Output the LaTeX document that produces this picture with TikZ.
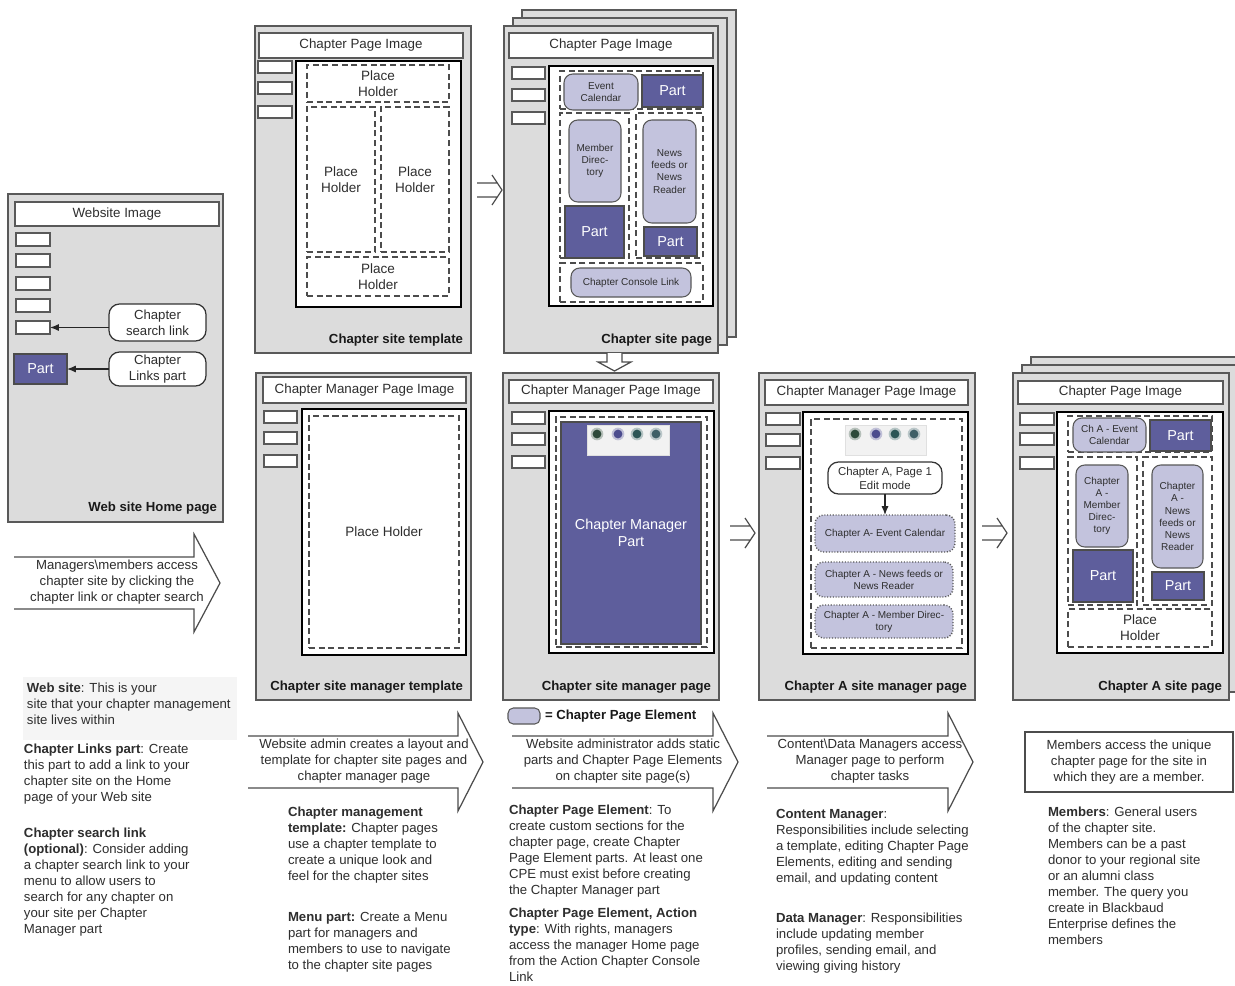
\documentclass[tikz,border=0pt]{standalone}
\usepackage{fontspec}
\setmainfont{Liberation Sans}
\usetikzlibrary{arrows.meta}
\definecolor{pagegray}{HTML}{DCDCDC}
\definecolor{partblue}{HTML}{5E5E9C}
\definecolor{cpelilac}{HTML}{C3C3DD}
\definecolor{inkgray}{HTML}{2E2E2E}
\definecolor{icongreen}{HTML}{2E4A3A}
\definecolor{iconblue}{HTML}{4B4B8E}
\definecolor{iconteal}{HTML}{2C5656}
\definecolor{iconslate}{HTML}{3E5F66}
% box from pixel corners: name, x1, y1, x2, y2, style, text
\newcommand{\pbox}[7]{\node[#6, minimum width={((#4)-(#2))*0.02cm}, minimum height={((#5)-(#3))*0.02cm}] (#1) at ({((#2)+(#4))/2},{((#3)+(#5))/2}) {#7};}
\begin{document}
\begin{tikzpicture}[x=0.02cm, y=-0.02cm,
	every node/.style={inner sep=0pt, outer sep=0pt, align=center, text=inkgray},
	page/.style={draw=black!65, fill=pagegray, line width=0.7pt},
	banner/.style={draw=black!65, fill=white, line width=0.7pt, font=\fontsize{7.6}{9}\selectfont},
	menu/.style={draw=black!65, fill=white, line width=0.6pt},
	body/.style={draw=black, fill=white, line width=1.1pt},
	holder/.style={draw=black!70, dash pattern=on 3.5pt off 2pt, line width=0.8pt, font=\fontsize{7.7}{9.2}\selectfont},
	part/.style={draw=black!70, fill=partblue, line width=0.7pt, text=white, font=\fontsize{8.2}{10}\selectfont},
	cpe/.style={draw=black!65, fill=cpelilac, line width=0.6pt, rounded corners=5pt, font=\fontsize{5.7}{6.9}\selectfont},
	cpedotted/.style={cpe, densely dotted, line width=0.8pt},
	callout/.style={draw=black!80, fill=white, line width=0.7pt, rounded corners=6pt, font=\fontsize{7.5}{9}\selectfont},
	caption/.style={anchor=east, font=\bfseries\fontsize{7.5}{9}\selectfont, text=black!90},
	note/.style={anchor=north west, align=left, font=\fontsize{7.5}{9.1}\selectfont},
	flowtext/.style={font=\fontsize{7.5}{9.1}\selectfont},
	flow/.style={draw=black!70, line width=0.7pt},
	pointer/.style={draw=black!85, line width=0.7pt, -{Latex[length=5pt,width=4pt]}},
	iconstrip/.style={fill=black!5, draw=black!12}]
	\useasboundingbox (0,0) rectangle (1235,985);
	\fill[white] (0,0) rectangle (1235,985);

	% web site home page
	\pbox{home}{8}{194}{223}{522}{page}{}
	\pbox{homebanner}{15}{202}{219}{226}{banner}{Website Image}
	\foreach \t [count=\i] in {233,254,277,299}
		{\pbox{homemenu\i}{16}{\t}{50}{\t+13}{menu}{}}
	\pbox{searchbox}{16}{321}{50}{334}{menu}{}
	\pbox{linkspart}{14}{354}{67}{384}{part}{Part}
	\pbox{searchcall}{109}{304}{206}{341}{callout}{Chapter\\search link}
	\pbox{linkscall}{109}{352}{206}{386}{callout}{Chapter\\Links part}
	\draw[pointer] (searchcall.west |- searchbox.east) -- (searchbox.east);
	\draw[pointer] (linkscall.west) -- (linkspart.east);
	\node[caption] (homecap) at (217,508) {Web site Home page};

	% chapter site template
	\pbox{tpl}{255}{26}{471}{353}{page}{}
	\pbox{tplbanner}{259}{33}{463}{58}{banner}{Chapter Page Image}
	\foreach \t [count=\i] in {61,82,106}
		{\pbox{tplmenu\i}{258}{\t}{292}{\t+12}{menu}{}}
	\pbox{tplbody}{296}{61}{461}{307}{body}{}
	\pbox{tplholdtop}{307}{65}{449}{102}{holder}{Place\\Holder}
	\pbox{tplholdleft}{307}{107}{375}{252}{holder}{Place\\Holder}
	\pbox{tplholdright}{381}{107}{449}{252}{holder}{Place\\Holder}
	\pbox{tplholdbot}{307}{257}{449}{296}{holder}{Place\\Holder}
	\node[caption] (tplcap) at (463,340) {Chapter site template};

	% chapter site page (stack)
	\draw[page] (522,10) rectangle (736,337);
	\draw[page] (513,18) rectangle (727,345);
	\pbox{site}{504}{26}{718}{353}{page}{}
	\pbox{sitebanner}{509}{33}{713}{58}{banner}{Chapter Page Image}
	\foreach \t [count=\i] in {67,89,112}
		{\pbox{sitemenu\i}{512}{\t}{545}{\t+12}{menu}{}}
	\pbox{sitebody}{549}{66}{713}{306}{body}{}
	\pbox{siteholdtop}{560}{71}{703}{109}{holder}{}
	\pbox{siteholdleft}{560}{113}{629}{258}{holder}{}
	\pbox{siteholdright}{636}{113}{703}{258}{holder}{}
	\pbox{siteholdbot}{560}{263}{703}{302}{holder}{}
	\pbox{sitecal}{564}{74}{638}{110}{cpe}{Event\\Calendar}
	\pbox{sitepartA}{642}{75}{703}{107}{part}{Part}
	\pbox{sitedir}{569}{120}{621}{202}{cpe}{Member\\Direc-\\tory}
	\pbox{sitepartB}{565}{206}{624}{258}{part}{Part}
	\pbox{sitenews}{643}{120}{696}{223}{cpe}{News\\feeds or\\News\\Reader}
	\pbox{sitepartC}{644}{227}{697}{256}{part}{Part}
	\pbox{siteconsole}{571}{268}{691}{297}{cpe}{Chapter Console Link}
	\node[caption] (sitecap) at (712,340) {Chapter site page};

	% chapter site manager template
	\pbox{mtpl}{256}{373}{471}{700}{page}{}
	\pbox{mtplbanner}{263}{377}{466}{403}{banner}{Chapter Manager Page Image}
	\foreach \t [count=\i] in {411,432,455}
		{\pbox{mtplmenu\i}{264}{\t}{297}{\t+12}{menu}{}}
	\pbox{mtplbody}{302}{409}{466}{655}{body}{}
	\pbox{mtplhold}{309}{416}{459}{648}{holder}{Place Holder}
	\node[caption] (mtplcap) at (463,687) {Chapter site manager template};

	% chapter site manager page
	\pbox{mgr}{503}{373}{719}{700}{page}{}
	\pbox{mgrbanner}{509}{380}{713}{403}{banner}{Chapter Manager Page Image}
	\foreach \t [count=\i] in {412,433,456}
		{\pbox{mgrmenu\i}{512}{\t}{545}{\t+12}{menu}{}}
	\pbox{mgrbody}{549}{411}{714}{653}{body}{}
	\pbox{mgrhold}{556}{417}{707}{647}{holder}{}
	\pbox{mgrpart}{561}{422}{701}{644}{part}{Chapter Manager\\Part}
	\pbox{mgricons}{587}{425}{669}{455}{iconstrip}{}
	\foreach \dx/\c in {10/icongreen, 31/iconblue, 50/iconteal, 69/iconslate}
		{\fill[\c!35] (587+\dx,434) circle (3.6pt);
		 \fill[\c] (587+\dx,434) circle (2.5pt);}
	\node[caption] (mgrcap) at (711,687) {Chapter site manager page};

	% chapter A site manager page
	\pbox{amgr}{759}{373}{975}{700}{page}{}
	\pbox{amgrbanner}{765}{380}{968}{405}{banner}{Chapter Manager Page Image}
	\foreach \t [count=\i] in {413,434,457}
		{\pbox{amgrmenu\i}{766}{\t}{800}{\t+12}{menu}{}}
	\pbox{amgrbody}{803}{412}{968}{654}{body}{}
	\pbox{amgrhold}{811}{419}{962}{648}{holder}{}
	\pbox{amgricons}{845}{425}{926}{455}{iconstrip}{}
	\foreach \dx/\c in {10/icongreen, 31/iconblue, 50/iconteal, 69/iconslate}
		{\fill[\c!35] (845+\dx,434) circle (3.6pt);
		 \fill[\c] (845+\dx,434) circle (2.5pt);}
	\pbox{aedit}{828}{462}{942}{494}{callout, font=\fontsize{6.5}{8}\selectfont}{Chapter A, Page 1\\Edit mode}
	\pbox{acal}{815}{515}{955}{552}{cpedotted}{Chapter A- Event Calendar}
	\pbox{anews}{815}{562}{953}{597}{cpedotted}{Chapter A - News feeds or\\News Reader}
	\pbox{adir}{815}{605}{953}{638}{cpedotted}{Chapter A - Member Direc-\\tory}
	\draw[pointer] (aedit.south) -- (acal.north);
	\node[caption] (amgrcap) at (967,687) {Chapter A site manager page};

	% chapter A site page (stack)
	\draw[page] (1031,357) rectangle (1247,684);
	\draw[page] (1022,365) rectangle (1238,692);
	\pbox{asite}{1013}{373}{1229}{700}{page}{}
	\pbox{asitebanner}{1018}{381}{1223}{404}{banner}{Chapter Page Image}
	\foreach \t [count=\i] in {413,433,457}
		{\pbox{asitemenu\i}{1020}{\t}{1054}{\t+12}{menu}{}}
	\pbox{asitebody}{1057}{412}{1223}{653}{body}{}
	\pbox{asiteholdtop}{1068}{416}{1212}{452}{holder}{}
	\pbox{asiteholdleft}{1068}{457}{1137}{605}{holder}{}
	\pbox{asiteholdright}{1143}{457}{1212}{605}{holder}{}
	\pbox{asiteholdbot}{1068}{609}{1212}{647}{holder}{Place\\Holder}
	\pbox{asitecal}{1073}{418}{1146}{452}{cpe}{Ch A - Event\\Calendar}
	\pbox{asitepartA}{1150}{420}{1211}{451}{part}{Part}
	\pbox{asitedir}{1076}{465}{1128}{547}{cpe}{Chapter\\A -\\Member\\Direc-\\tory}
	\pbox{asitepartB}{1073}{550}{1133}{602}{part}{Part}
	\pbox{asitenews}{1152}{465}{1203}{568}{cpe}{Chapter\\A -\\News\\feeds or\\News\\Reader}
	\pbox{asitepartC}{1152}{572}{1204}{600}{part}{Part}
	\node[caption] (asitecap) at (1222,687) {Chapter A site page};

	% hollow arrows between pages
	\foreach \x/\y in {477/190, 730/533, 982/533}
		{\draw[flow] (\x,\y-7) -- (\x+20.3,\y-7) (\x+15,\y-15) -- (\x+25,\y) -- (\x+15,\y+15) (\x+20.3,\y+7) -- (\x,\y+7);}
	\draw[flow, fill=white] (607,353) -- (607,362) -- (598,362) -- (614.5,371) -- (631,362) -- (622,362) -- (622,353);

	% big flow arrows
	\foreach \a/\h/\t/\m in {14/194/220/583, 248/458/483/762, 512/713/738/762, 767/948/973/762}
		\draw[flow] (\a,\m-26) -- (\h,\m-26) -- (\h,\m-49) -- (\t,\m) -- (\h,\m+49) -- (\h,\m+26) -- (\a,\m+26);
	\node[flowtext] (accesstext) at (117,582) {Managers\textbackslash members access\\chapter site by clicking the\\chapter link or chapter search};
	\node[flowtext] (admintext) at (364,761) {Website admin creates a layout and\\template for chapter site pages and\\chapter manager page};
	\node[flowtext] (statictext) at (623,761) {Website administrator adds static\\parts and Chapter Page Elements\\on chapter site page(s)};
	\node[flowtext] (tasktext) at (870,761) {Content\textbackslash Data Managers access\\Manager page to perform\\chapter tasks};
	\pbox{membox}{1025}{732}{1233}{792}{draw=black!70, line width=0.7pt, flowtext}{Members access the unique\\chapter page for the site in\\which they are a member.}

	% legend
	\pbox{legendcpe}{508}{708}{540}{724}{cpe, rounded corners=3pt}{}
	\node[anchor=west, font=\bfseries\fontsize{7.5}{9}\selectfont, text=black!90] (legendtext) at (545,716) {= Chapter Page Element};

	% notes
	\fill[black!4] (23,677) rectangle (237,740);
	\node[note] (websitenote) at (27,683) {\textbf{Web site}: This is your\\site that your chapter management\\site lives within};
	\node[note] (linksnote) at (24,744) {\textbf{Chapter Links part}: Create\\this part to add a link to your\\chapter site on the Home\\page of your Web site};
	\node[note] (searchnote) at (24,828) {\textbf{Chapter search link}\\\textbf{(optional)}: Consider adding\\a chapter search link to your\\menu to allow users to\\search for any chapter on\\your site per Chapter\\Manager part};
	\node[note] (templatenote) at (288,807) {\textbf{Chapter management}\\\textbf{template:} Chapter pages\\use a chapter template to\\create a unique look and\\feel for the chapter sites};
	\node[note] (menunote) at (288,912) {\textbf{Menu part:} Create a Menu\\part for managers and\\members to use to navigate\\to the chapter site pages};
	\node[note] (cpenote) at (509,805) {\textbf{Chapter Page Element}: To\\create custom sections for the\\chapter page, create Chapter\\Page Element parts. At least one\\CPE must exist before creating\\the Chapter Manager part};
	\node[note] (actionnote) at (509,908) {\textbf{Chapter Page Element, Action}\\\textbf{type}: With rights, managers\\access the manager Home page\\from the Action Chapter Console\\Link};
	\node[note] (contentnote) at (776,809) {\textbf{Content Manager}:\\Responsibilities include selecting\\a template, editing Chapter Page\\Elements, editing and sending\\email, and updating content};
	\node[note] (datanote) at (776,913) {\textbf{Data Manager}: Responsibilities\\include updating member\\profiles, sending email, and\\viewing giving history};
	\node[note] (membersnote) at (1048,807) {\textbf{Members}: General users\\of the chapter site.\\Members can be a past\\donor to your regional site\\or an alumni class\\member. The query you\\create in Blackbaud\\Enterprise defines the\\members};
\end{tikzpicture}
\end{document}
